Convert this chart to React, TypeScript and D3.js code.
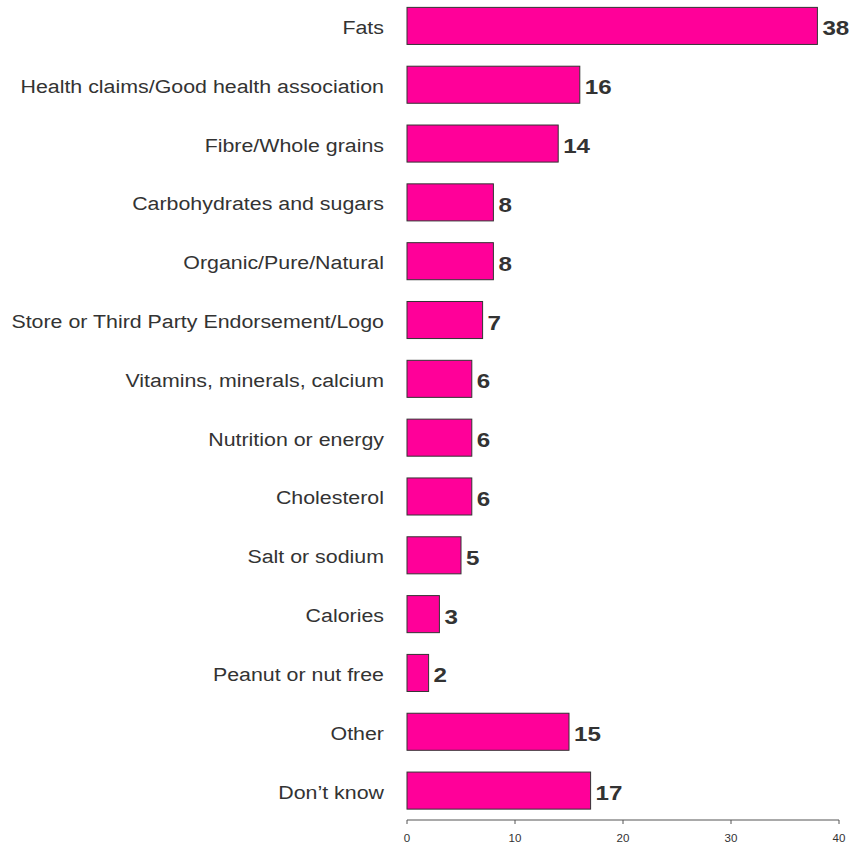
import React from "react";
import * as d3 from "d3";

const categories = [
  "Fats",
  "Health claims/Good health association",
  "Fibre/Whole grains",
  "Carbohydrates and sugars",
  "Organic/Pure/Natural",
  "Store or Third Party Endorsement/Logo",
  "Vitamins, minerals, calcium",
  "Nutrition or energy",
  "Cholesterol",
  "Salt or sodium",
  "Calories",
  "Peanut or nut free",
  "Other",
  "Don\u2019t know",
];
const values = [38, 16, 14, 8, 8, 7, 6, 6, 6, 5, 3, 2, 15, 17];
const ticks = [0, 10, 20, 30, 40];

export default function App() {
  const W = 853;
  const H = 846;
  const x = d3.scaleLinear().domain([0, 40]).range([407, 839]);
  const y = d3
    .scaleBand<string>()
    .domain(categories)
    .range([-3.5, 820])
    .paddingInner(0.37)
    .paddingOuter(0.185);
  const axisY = 820;
  const font = "Arial, 'Liberation Sans', sans-serif";
  return (
    <svg
      width={W}
      height={H}
      style={{ position: "absolute", left: 0, top: 0, background: "#fff" }}
    >
      {categories.map((c, i) => {
        const yy = y(c)!;
        const bw = y.bandwidth();
        return (
          <g key={c}>
            <rect
              x={x(0)}
              y={yy}
              width={x(values[i]) - x(0)}
              height={bw}
              fill="#FF0099"
              stroke="#333"
              strokeWidth={1}
            />
            <text
              transform={`translate(384,${yy + bw / 2 + 8}) scale(1.125,1)`}
              textAnchor="end"
              fontFamily={font}
              fontSize={19}
              fill="#333"
            >
              {c}
            </text>
            <text
              transform={`translate(${x(values[i]) + 5},${yy + bw / 2 + 9.5}) scale(1.15,1)`}
              fontFamily={font}
              fontSize={21}
              fontWeight="bold"
              fill="#333"
            >
              {values[i]}
            </text>
          </g>
        );
      })}
      <line x1={x(0)} x2={x(40)} y1={axisY} y2={axisY} stroke="#555" strokeWidth={1} />
      {ticks.map((t) => (
        <g key={t}>
          <line x1={x(t)} x2={x(t)} y1={axisY} y2={axisY + 4} stroke="#555" strokeWidth={1} />
          <text
            transform={`translate(${x(t)},${axisY + 21.5}) scale(1.05,1)`}
            textAnchor="middle"
            fontFamily={font}
            fontSize={11}
            fill="#333"
          >
            {t}
          </text>
        </g>
      ))}
    </svg>
  );
}
